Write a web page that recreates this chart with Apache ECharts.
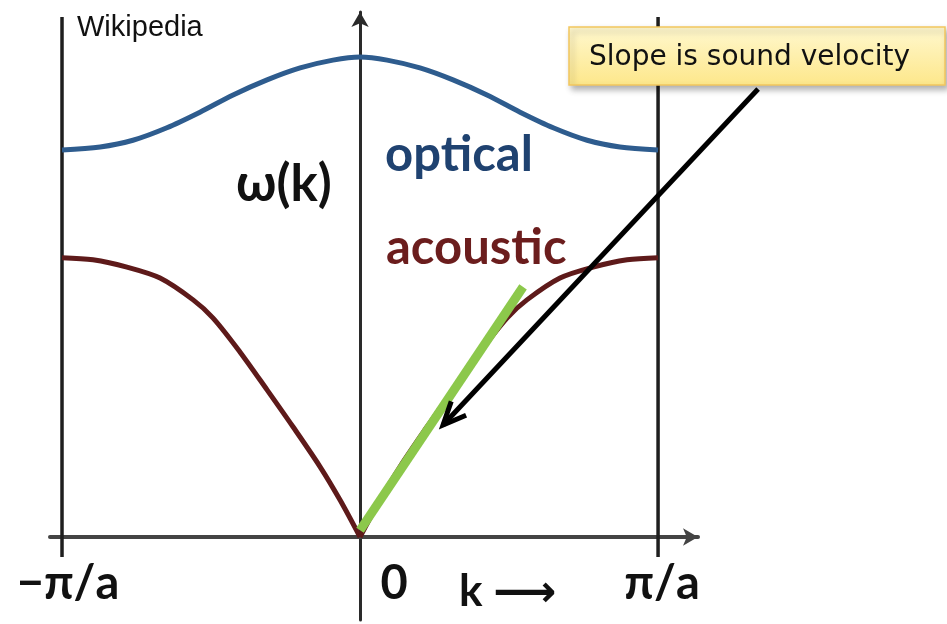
<!DOCTYPE html>
<html>
<head>
<meta charset="utf-8">
<script src="https://cdn.jsdelivr.net/npm/echarts@6/dist/echarts.min.js"></script>
<style>
  html, body { margin: 0; padding: 0; background: #ffffff; }
  #chart { width: 947px; height: 624px; }
</style>
</head>
<body>
<div id="chart"></div>
<script>
// Wavevector k in units of π/a, frequency ω in arbitrary units.
const opticalK = [-1, -0.872, -0.762, -0.648, -0.537, -0.426, -0.312, -0.201, -0.091, 0,
                  0.091, 0.201, 0.312, 0.426, 0.537, 0.648, 0.762, 0.872, 1];
const opticalW = [0.744, 0.750, 0.763, 0.787, 0.817, 0.850, 0.879, 0.902, 0.917, 0.923,
                  0.917, 0.902, 0.879, 0.850, 0.817, 0.787, 0.763, 0.750, 0.744];

const acousticK = [-1, -0.896, -0.782, -0.671, -0.560, -0.493, -0.403, -0.312, -0.225, -0.134, -0.067, 0,
                   0.067, 0.134, 0.225, 0.312, 0.403, 0.493, 0.560, 0.671, 0.782, 0.896, 1];
const acousticW = [0.537, 0.533, 0.519, 0.498, 0.456, 0.421, 0.356, 0.283, 0.212, 0.135, 0.071, 0,
                   0.071, 0.135, 0.212, 0.283, 0.356, 0.421, 0.456, 0.498, 0.519, 0.533, 0.537];

// Tangent at k = 0 (sound velocity)
const tangentK = [0, 0.547];
const tangentW = [0.013, 0.481];

// Brillouin zone boundaries
const zoneEdgeK = [-1, 1];
const zoneEdgeW = [1.0, -0.0385];

const tickValues = [-1, 0, 1];
const tickLabels = ['−π/a', '0', 'π/a'];
const tickShift = [6, 34, 4];   // horizontal nudge of each label from its tick

// Callout arrow: from the note box to the tangent line
const arrowFrom = [1.3356, 0.8615];
const arrowTo = [0.2785, 0.2154];

const zip = (xs, ys) => xs.map((x, i) => [x, ys[i]]);

const chart = echarts.init(document.getElementById('chart'), null, { renderer: 'canvas' });

const labelFont = 'Lato, "DejaVu Sans", sans-serif';
const centre = acousticK.indexOf(0);
const acousticPts = zip(acousticK, acousticW);

const curve = (data, color) => ({
  type: 'line', data: data, smooth: 0.3, showSymbol: false,
  lineStyle: { color: color, width: 5 }, z: 3, silent: true
});

const series = [
  curve(zip(opticalK, opticalW), '#2e5c8e'),
  // acoustic branch has a kink at k = 0, drawn as two smooth halves
  curve(acousticPts.slice(0, centre + 1), '#5e1a1a'),
  curve(acousticPts.slice(centre), '#5e1a1a'),
  {
    type: 'line', data: zip(tangentK, tangentW), showSymbol: false,
    lineStyle: { color: '#8cc84b', width: 9, cap: 'butt' }, z: 4, silent: true
  }
];
zoneEdgeK.forEach(k => {
  series.push({
    type: 'line', data: [[k, zoneEdgeW[0]], [k, zoneEdgeW[1]]], showSymbol: false,
    lineStyle: { color: '#1e1e1e', width: 3.5 }, z: 2, silent: true
  });
});

chart.setOption({
  animation: false,
  backgroundColor: '#ffffff',
  grid: { left: 50, right: 249, top: 12, bottom: 4, outerBoundsMode: 'none', containLabel: false },
  xAxis: {
    type: 'value', min: -1.0403, max: 1.134,
    splitLine: { show: false },
    axisLine: {
      onZero: true, symbol: ['none', 'arrow'], symbolSize: [13, 15],
      lineStyle: { color: '#444444', width: 4 }
    },
    axisTick: { show: false },
    axisLabel: { show: false }
  },
  yAxis: {
    type: 'value', min: -0.1596, max: 1.0096,
    splitLine: { show: false },
    axisLine: {
      onZero: true, symbol: ['none', 'arrow'], symbolSize: [13, 15],
      lineStyle: { color: '#2a2a2a', width: 3 }
    },
    axisTick: { show: false },
    axisLabel: { show: false }
  },
  series: series
});

// Tick labels placed at their axis positions
const tickTexts = tickValues.map((v, i) => {
  const p = chart.convertToPixel({ gridIndex: 0 }, [v, 0]);
  return {
    type: 'text', z: 100, x: p[0] + tickShift[i], y: p[1] + 47,
    style: {
      text: tickLabels[i], font: 'bold 47px ' + labelFont, fill: '#111',
      align: 'center', verticalAlign: 'middle'
    }
  };
});

// Annotations
const p0 = chart.convertToPixel({ gridIndex: 0 }, arrowFrom);
const p1 = chart.convertToPixel({ gridIndex: 0 }, arrowTo);
const ang = Math.atan2(p0[1] - p1[1], p0[0] - p1[0]);
const barb = 25, spread = 24 * Math.PI / 180;
const b1 = [p1[0] + barb * Math.cos(ang - spread), p1[1] + barb * Math.sin(ang - spread)];
const b2 = [p1[0] + barb * Math.cos(ang + spread), p1[1] + barb * Math.sin(ang + spread)];

chart.setOption({
  graphic: tickTexts.concat([
    {
      type: 'text', z: 100, left: 77, top: 13,
      style: { text: 'Wikipedia', font: '29px "Liberation Sans", Arial, sans-serif', fill: '#111' }
    },
    {
      type: 'text', z: 100, x: 236, y: 185,
      style: { text: 'ω(k)', font: 'bold 51px ' + labelFont, fill: '#111', verticalAlign: 'middle' }
    },
    {
      type: 'text', z: 100, x: 385, y: 155,
      style: { text: 'optical', font: 'bold 49px ' + labelFont, fill: '#1f4270', verticalAlign: 'middle' }
    },
    {
      type: 'text', z: 100, x: 386, y: 248,
      style: { text: 'acoustic', font: 'bold 49px ' + labelFont, fill: '#6b1d1d', verticalAlign: 'middle' }
    },
    {
      type: 'text', z: 100, x: 459, y: 592,
      style: { text: 'k ⟶', font: 'bold 44px ' + labelFont, fill: '#111', verticalAlign: 'middle' }
    },
    {
      type: 'line', z: 110,
      shape: { x1: p0[0], y1: p0[1], x2: p1[0], y2: p1[1] },
      style: { stroke: '#000', lineWidth: 5 }
    },
    {
      type: 'polyline', z: 110,
      shape: { points: [b1, p1, b2] },
      style: { stroke: '#000', lineWidth: 5, fill: null, lineJoin: 'miter' }
    },
    {
      type: 'rect', z: 120,
      shape: { x: 569, y: 27, width: 376, height: 58 },
      style: {
        fill: new echarts.graphic.LinearGradient(0, 0, 0, 1, [
          { offset: 0, color: '#fff8cf' },
          { offset: 1, color: '#fde78a' }
        ]),
        stroke: '#f2c65e', lineWidth: 1.5,
        shadowBlur: 6, shadowOffsetX: 3, shadowOffsetY: 4, shadowColor: 'rgba(0,0,0,0.3)'
      }
    },
    {
      type: 'text', z: 130, x: 589, y: 58,
      style: { text: 'Slope is sound velocity', font: '28px "DejaVu Sans", sans-serif', fill: '#111', verticalAlign: 'middle' }
    }
  ])
});
</script>
</body>
</html>
